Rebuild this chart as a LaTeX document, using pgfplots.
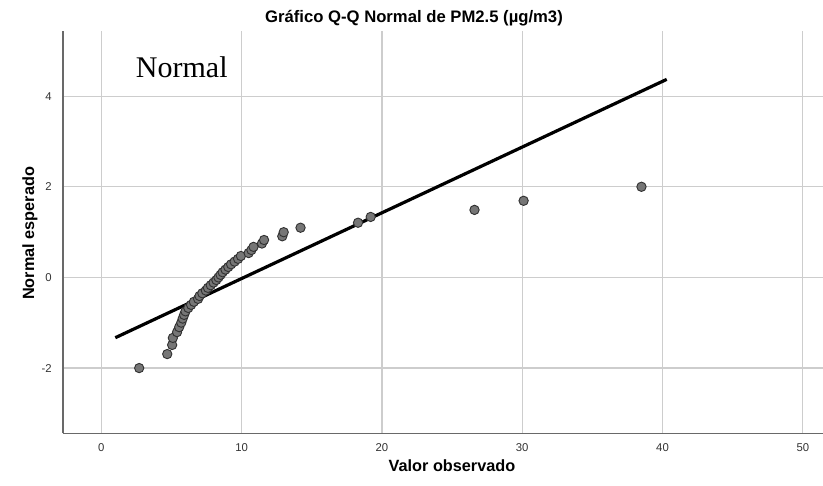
\documentclass[border=0pt]{standalone}
\usepackage{pgfplots}
\pgfplotsset{compat=1.18}
\usepackage{fontspec}
\setmainfont{Liberation Sans}
\newfontfamily\timesfont{Liberation Serif}
\definecolor{gridgray}{RGB}{205,205,205}
\definecolor{axisgray}{RGB}{105,105,105}
\definecolor{ptfill}{RGB}{118,118,118}
\definecolor{ptdraw}{RGB}{50,50,50}
\begin{document}
\begin{tikzpicture}
\useasboundingbox (-47.25pt,-38.8pt) rectangle (570pt,325pt);
\begin{axis}[
  scale only axis,
  width=570pt, height=301.5pt,
  xmin=-2.73, xmax=51.44,
  ymin=-3.44, ymax=5.43,
  axis x line*=bottom, axis y line*=left,
  axis line style={axisgray, line width=0.9pt},
  xtick={0,10,20,30,40,50},
  ytick={-2,0,2,4},
  major tick length=0pt,
  grid=major,
  major grid style={gridgray, line width=0.9pt},
  /pgf/number format/assume math mode=true,
  tick label style={font=\fontsize{8.5}{9}\selectfont, text=black!80},
  xticklabel style={yshift=-4pt},
  yticklabel style={xshift=-5pt},
  clip=false,
]
\addplot[black, line width=2.4pt] coordinates {(1.0,-1.33) (40.3,4.37)};
\addplot[only marks, mark=*, mark size=3.5pt,
  mark options={fill=ptfill, draw=ptdraw, line width=0.7pt}] coordinates {
(2.7,-2.000) (4.7,-1.691) (5.05,-1.490) (5.1,-1.335) (5.4,-1.207)
(5.55,-1.097) (5.7,-0.998) (5.8,-0.908) (5.9,-0.826) (6.0,-0.748)
(6.2,-0.674) (6.4,-0.605) (6.6,-0.538) (6.9,-0.473) (7.0,-0.410)
(7.2,-0.349) (7.45,-0.289) (7.6,-0.230) (7.8,-0.172) (8.0,-0.114)
(8.2,-0.057) (8.35,0) (8.5,0.057) (8.65,0.114) (8.85,0.172)
(9.05,0.230) (9.25,0.289) (9.5,0.349) (9.75,0.410) (9.95,0.473)
(10.5,0.538) (10.7,0.605) (10.85,0.674) (11.45,0.748) (11.6,0.826)
(12.9,0.908) (13.0,0.998) (14.2,1.097) (18.3,1.207) (19.2,1.335)
(26.6,1.490) (30.1,1.691) (38.5,2.000)
};
\node[anchor=base west, inner sep=0pt, font=\timesfont\fontsize{22.5}{26}\selectfont] at (axis cs:2.45,4.42) {Normal};
\end{axis}
\node[font=\bfseries\fontsize{12.5}{14}\selectfont] at (263.25pt,311.25pt) {Gráfico Q-Q Normal de PM2.5 (µg/m3)};
\node[font=\bfseries\fontsize{12.2}{14}\selectfont] at (291.75pt,-24pt) {Valor observado};
\node[font=\bfseries\fontsize{12.2}{14}\selectfont, rotate=90] at (-24.75pt,150pt) {Normal esperado};
\end{tikzpicture}
\end{document}
